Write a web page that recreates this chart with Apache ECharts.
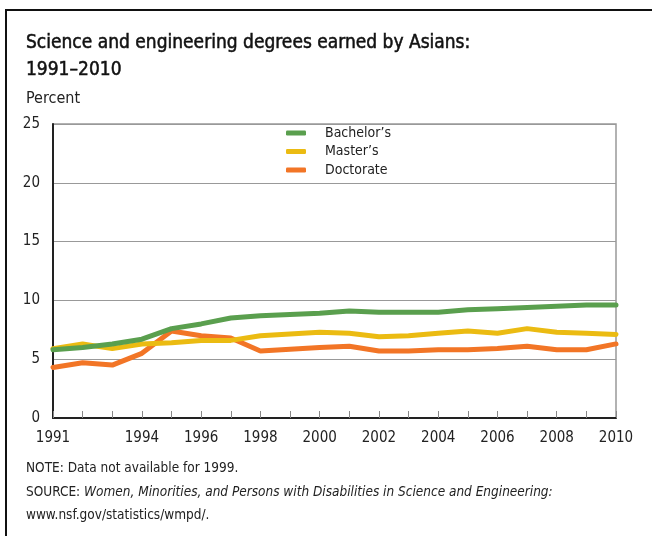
<!DOCTYPE html>
<html>
<head>
<meta charset="utf-8">
<script src="https://cdn.jsdelivr.net/npm/echarts@6/dist/echarts.min.js"></script>
<style>
  html, body { margin: 0; padding: 0; background: #fff; }
  #main { width: 652px; height: 536px; }
</style>
</head>
<body>
<div id="main"></div>
<script>
// data (1999 not available)
const years = [1991, 1992, 1993, 1994, 1995, 1996, 1997, 1998, 1999, 2000,
  2001, 2002, 2003, 2004, 2005, 2006, 2007, 2008, 2009, 2010];
const bachelors = [5.8, 6.0, 6.3, 6.7, 7.6, 8.0, 8.5, 8.7, null, 8.9,
  9.1, 9.0, 9.0, 9.0, 9.2, 9.3, 9.4, 9.5, 9.6, 9.6];
const masters = [5.9, 6.3, 5.9, 6.3, 6.4, 6.6, 6.6, 7.0, null, 7.3,
  7.2, 6.9, 7.0, 7.2, 7.4, 7.2, 7.6, 7.3, 7.2, 7.1];
const doctorate = [4.3, 4.7, 4.5, 5.5, 7.4, 7.0, 6.8, 5.7, null, 6.0,
  6.1, 5.7, 5.7, 5.8, 5.8, 5.9, 6.1, 5.8, 5.8, 6.3];
const yearLabels = [1991, 1994, 1996, 1998, 2000, 2002, 2004, 2006, 2008, 2010];

const FONT = '"Liberation Sans Narrow", "DejaVu Sans Condensed", "Roboto", sans-serif';
const pairs = (vals) => years.map((y, i) => [y, vals[i]]);

const myChart = echarts.init(document.getElementById('main'));

myChart.setOption({
  backgroundColor: '#fff',
  animation: false,
  textStyle: { fontFamily: FONT, color: '#222' },
  title: [{
    text: 'Science and engineering degrees earned by Asians:\n1991\u20132010',
    left: 21,
    top: 25,
    textStyle: {
      fontFamily: FONT, fontSize: 19, fontWeight: 'normal', color: '#111', lineHeight: 27,
      textBorderColor: '#111', textBorderWidth: 0.5
    }
  }, {
    text: 'Percent',
    left: 21,
    top: 86,
    textStyle: { fontFamily: FONT, fontSize: 16, fontWeight: 'normal', color: '#222' }
  }, {
    // notes under the chart
    text: 'NOTE: Data not available for 1999.\n'
      + 'SOURCE: {i|Women, Minorities, and Persons with Disabilities in Science and Engineering:}\n'
      + 'www.nsf.gov/statistics/wmpd/.',
    left: 21,
    top: 452,
    textStyle: {
      fontFamily: FONT, fontSize: 13.5, fontWeight: 'normal', color: '#222', lineHeight: 23.5,
      rich: {
        i: { fontFamily: FONT, fontSize: 13.5, fontStyle: 'italic', color: '#222', lineHeight: 23.5 }
      }
    }
  }],
  legend: {
    orient: 'vertical',
    left: 286,
    top: 126,
    padding: 0,
    itemWidth: 20,
    itemHeight: 5,
    itemGap: 4.5,
    icon: 'roundRect',
    textStyle: { fontFamily: FONT, fontSize: 14, color: '#222', padding: [0, 0, 0, 14] },
    data: ['Bachelor\u2019s', 'Master\u2019s', 'Doctorate']
  },
  grid: {
    left: 53,
    right: 36,
    top: 124,
    bottom: 118,
    show: true,
    borderColor: '#999',
    borderWidth: 1.5
  },
  xAxis: {
    type: 'value',
    min: 1991,
    max: 2010,
    interval: 1,
    axisLine: { show: true, lineStyle: { color: '#222', width: 2 } },
    axisTick: { show: true, inside: true, length: 7, lineStyle: { color: '#888', width: 1 } },
    splitLine: { show: false },
    axisLabel: {
      fontFamily: FONT,
      fontSize: 15,
      color: '#222',
      margin: 13,
      showMinLabel: true,
      showMaxLabel: true,
      formatter: (v) => (yearLabels.indexOf(v) >= 0 ? String(v) : '')
    }
  },
  yAxis: {
    type: 'value',
    min: 0,
    max: 25,
    interval: 5,
    axisLine: { show: true, lineStyle: { color: '#222', width: 2 } },
    axisTick: { show: false },
    splitLine: { show: true, lineStyle: { color: '#999', width: 1.2 } },
    axisLabel: { fontFamily: FONT, fontSize: 15, color: '#222', margin: 13 }
  },
  series: [{
    name: 'Bachelor\u2019s',
    type: 'line',
    data: pairs(bachelors),
    connectNulls: true,
    showSymbol: false,
    symbol: 'none',
    lineStyle: { width: 5, color: '#5a9f4e', cap: 'round' },
    itemStyle: { color: '#5a9f4e' },
    z: 4
  }, {
    name: 'Master\u2019s',
    type: 'line',
    data: pairs(masters),
    connectNulls: true,
    showSymbol: false,
    symbol: 'none',
    lineStyle: { width: 5, color: '#ebbb12', cap: 'round' },
    itemStyle: { color: '#ebbb12' },
    z: 3
  }, {
    name: 'Doctorate',
    type: 'line',
    data: pairs(doctorate),
    connectNulls: true,
    showSymbol: false,
    symbol: 'none',
    lineStyle: { width: 5, color: '#f27526', cap: 'round' },
    itemStyle: { color: '#f27526' },
    z: 2
  }],
  graphic: [{
    // frame lines: top and left
    type: 'line',
    shape: { x1: 5, y1: 10, x2: 652, y2: 10 },
    style: { stroke: '#111', lineWidth: 2 }
  }, {
    type: 'line',
    shape: { x1: 6, y1: 10, x2: 6, y2: 536 },
    style: { stroke: '#111', lineWidth: 2 }
  }]
});
</script>
</body>
</html>
